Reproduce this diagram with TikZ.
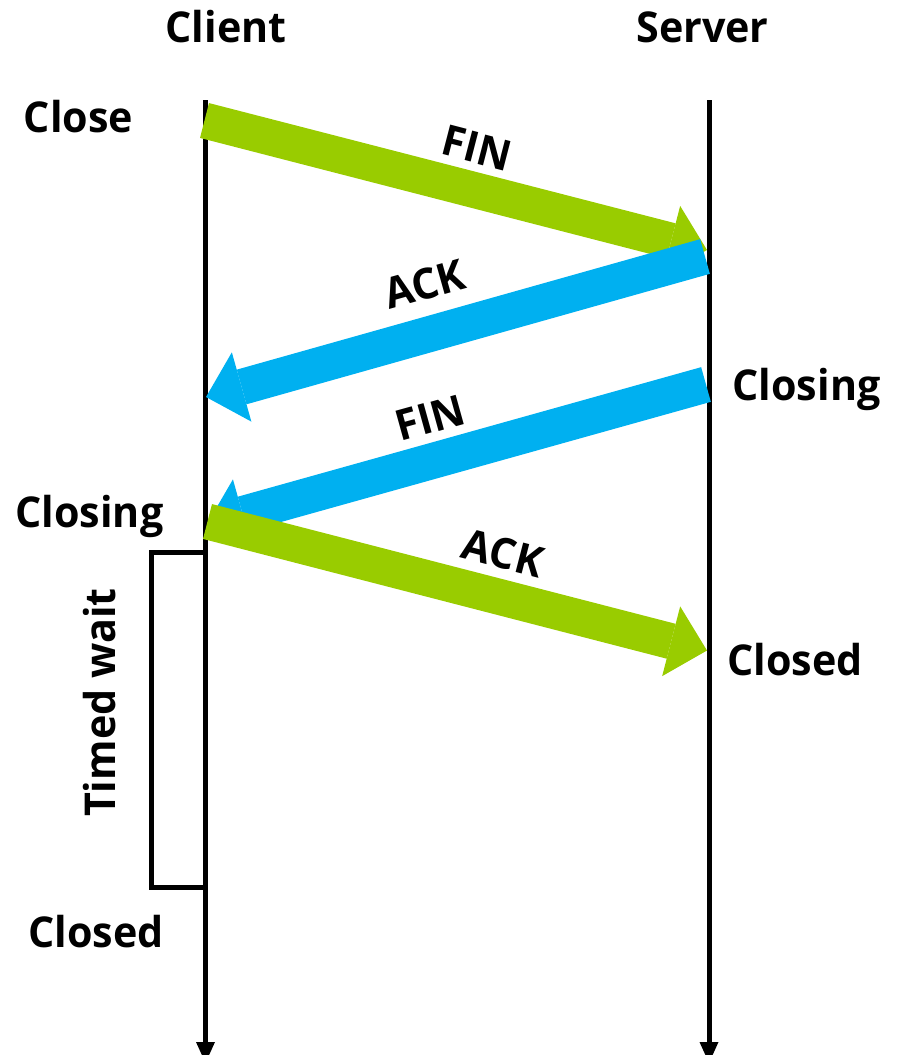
\documentclass[tikz,border=0pt]{standalone}
\usepackage{fontspec}
\setmainfont{Open Sans}[BoldFeatures={FakeStretch=0.97}]
\usetikzlibrary{arrows.meta}
\definecolor{msggreen}{RGB}{153,204,0}
\definecolor{msgblue}{RGB}{0,176,240}
\begin{document}
\begin{tikzpicture}[x=1pt,y=-1pt,
  lbl/.style={inner sep=0pt, font=\fontsize{42.5}{50}\selectfont\bfseries},
  lifeline/.style={line width=5pt, -{Triangle[length=21pt,width=19pt,line width=0pt]}},
  msg/.style={line width=36pt, -{Triangle[length=37pt,width=72pt,line width=0pt]}},
  bracket/.style={line width=5pt, line join=miter}]
\useasboundingbox (0,0) rectangle (900,1055);

% lifelines (their tips run past the lower edge of the page)
\coordinate (ctop) at (205.5,100);
\coordinate (cbot) at (205.5,1063);
\coordinate (stop) at (709,100);
\coordinate (sbot) at (709,1063);
\draw[lifeline] (ctop) -- (cbot);
\draw[lifeline] (stop) -- (sbot);

% headers
\node[lbl, anchor=base] (client) at (226,42) {Client};
\node[lbl, anchor=base] (server) at (702.5,42) {Server};

% state labels
\node[lbl, anchor=base] (close) at (78.5,132) {Close};
\node[lbl, anchor=base] (sclosing) at (806.5,400) {Closing};
\node[lbl, anchor=base] (cclosing) at (89.5,527) {Closing};
\node[lbl, anchor=base] (sclosed) at (795,675) {Closed};
\node[lbl, anchor=base] (cclosed) at (96,947) {Closed};

% message end points
\coordinate (m1s) at (204.5,120.5);
\coordinate (m1e) at (707,250);
\coordinate (m2s) at (705,256.5);
\coordinate (m2e) at (206,397);
\coordinate (m3s) at (706,384.5);
\coordinate (m3e) at (207,524);
\coordinate (m4s) at (207.5,521.5);
\coordinate (m4e) at (707,650.5);

% messages
\draw[msg, msggreen] (m1s) -- (m1e);
\draw[msg, msgblue] (m2s) -- (m2e);
\draw[msg, msgblue] (m3s) -- (m3e);
\draw[msg, msggreen] (m4s) -- (m4e);

% message labels
\node[lbl, rotate=-14.5] (fin1) at (477,148) {FIN};
\node[lbl, rotate=15.7] (ack1) at (425,284) {ACK};
\node[lbl, rotate=15.5] (fin2) at (430,418) {FIN};
\node[lbl, rotate=-14.5] (ack2) at (503,553) {ACK};

% timed wait bracket
\coordinate (bt) at (205.5,552);
\coordinate (bb) at (205.5,887);
\draw[bracket] (bt) -| (151,887) -- (bb);
\node[lbl, rotate=90, anchor=base] (twait) at (115,702.5) {Timed wait};
\end{tikzpicture}
\end{document}
